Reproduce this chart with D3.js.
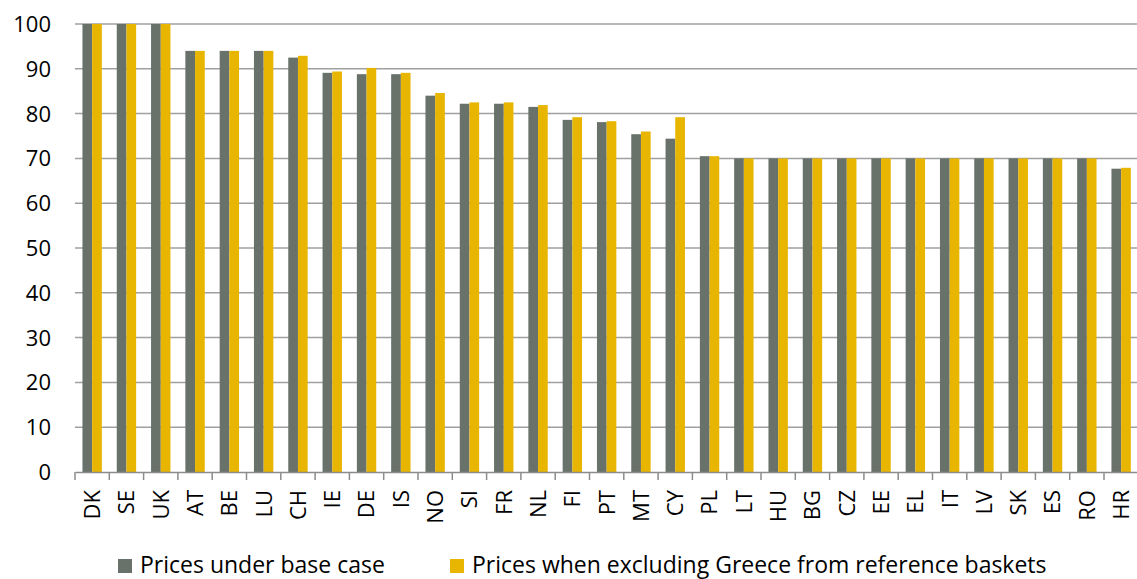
<!DOCTYPE html>
<html>
<head>
<meta charset="utf-8">
<script src="https://d3js.org/d3.v7.min.js"></script>
<style>
  body { margin: 0; background: #fff; }
  text { font-family: 'Open Sans', sans-serif; fill: #000; }
</style>
</head>
<body>
<div id="chart"></div>
<script>
// data
var countries = ["DK","SE","UK","AT","BE","LU","CH","IE","DE","IS","NO","SI","FR","NL","FI","PT","MT","CY","PL","LT","HU","BG","CZ","EE","EL","IT","LV","SK","ES","RO","HR"];
var baseCase = [100,100,100,94,94,94,92.5,89.1,88.8,88.8,84.0,82.2,82.2,81.5,78.6,78.1,75.4,74.4,70.5,70,70,70,70,70,70,70,70,70,70,70,67.7];
var exclGreece = [100,100,100,94,94,94,92.9,89.4,90.2,89.1,84.6,82.5,82.5,81.9,79.2,78.3,76.0,79.2,70.5,70,70,70,70,70,70,70,70,70,70,70,67.9];
var seriesNames = ["Prices under base case", "Prices when excluding Greece from reference baskets"];
var colors = ["#68716A", "#E8B500"];
var yTicks = [0,10,20,30,40,50,60,70,80,90,100];

var W = 1137, H = 579;
var plotLeft = 75, plotRight = 1138.3, plotTop = 24, plotBottom = 472;

var svg = d3.select("#chart")
  .append("svg")
    .attr("width", W)
    .attr("height", H);

// scales
var x = d3.scaleBand()
  .domain(countries)
  .range([plotLeft, plotRight])
  .paddingInner(0.435)
  .paddingOuter(0.2175);
var x0 = d3.scaleBand()
  .domain(countries)
  .range([plotLeft, plotRight]);
var xs = d3.scaleBand()
  .domain([0, 1])
  .range([0, x.bandwidth()]);
var y = d3.scaleLinear()
  .domain([0, 100])
  .range([plotBottom, plotTop]);

// gridlines
svg.append("g")
  .selectAll("line")
  .data(yTicks.filter(function(d) { return d > 0; }))
  .enter()
  .append("line")
    .attr("x1", plotLeft)
    .attr("x2", W)
    .attr("y1", function(d) { return y(d); })
    .attr("y2", function(d) { return y(d); })
    .attr("stroke", "#A0A0A0")
    .attr("stroke-width", 1.5);

// bars
var rows = countries.map(function(c, i) { return {c: c, v: [baseCase[i], exclGreece[i]]}; });
var groups = svg.append("g")
  .selectAll("g")
  .data(rows)
  .enter()
  .append("g")
    .attr("transform", function(d) { return "translate(" + x(d.c) + ",0)"; });
groups.selectAll("rect")
  .data(function(d) { return d.v; })
  .enter()
  .append("rect")
    .attr("x", function(d, i) { return xs(i); })
    .attr("y", function(d) { return y(d); })
    .attr("width", xs.bandwidth())
    .attr("height", function(d) { return y(0) - y(d); })
    .attr("fill", function(d, i) { return colors[i]; });

// x axis
var xAxis = svg.append("g")
  .attr("transform", "translate(0," + plotBottom + ")")
  .call(d3.axisBottom(x0).tickSize(0).tickFormat(""));
xAxis.select(".domain").attr("stroke", "#8C8C8C").attr("stroke-width", 1.5);
xAxis.selectAll(".sep")
  .data(countries.concat(["_end"]))
  .enter()
  .append("line")
    .attr("class", "sep")
    .attr("x1", function(d, i) { return plotLeft + i * x0.step(); })
    .attr("x2", function(d, i) { return plotLeft + i * x0.step(); })
    .attr("y1", 0)
    .attr("y2", 8)
    .attr("stroke", "#8C8C8C")
    .attr("stroke-width", 1.5);

svg.append("g")
  .selectAll("text")
  .data(countries)
  .enter()
  .append("text")
    .attr("transform", function(d) { return "translate(" + (x0(d) + x0.bandwidth() / 2) + ",490) rotate(-90)"; })
    .attr("text-anchor", "end")
    .attr("dy", "0.36em")
    .style("font-size", "22px")
    .text(function(d) { return d; });

// y labels
svg.append("g")
  .selectAll("text")
  .data(yTicks)
  .enter()
  .append("text")
    .attr("x", 51)
    .attr("y", function(d) { return y(d); })
    .attr("dy", "0.36em")
    .attr("text-anchor", "end")
    .style("font-size", "22px")
    .text(function(d) { return d; });

// legend
var legendX = [118, 450];
var legend = svg.append("g")
  .selectAll("g")
  .data(seriesNames)
  .enter()
  .append("g")
    .attr("transform", function(d, i) { return "translate(" + legendX[i] + ",559)"; });
legend.append("rect")
  .attr("width", 14)
  .attr("height", 14)
  .attr("fill", function(d, i) { return colors[i]; });
legend.append("text")
  .attr("x", 22)
  .attr("y", 14)
  .style("font-size", "23px")
  .text(function(d) { return d; });
</script>
</body>
</html>
